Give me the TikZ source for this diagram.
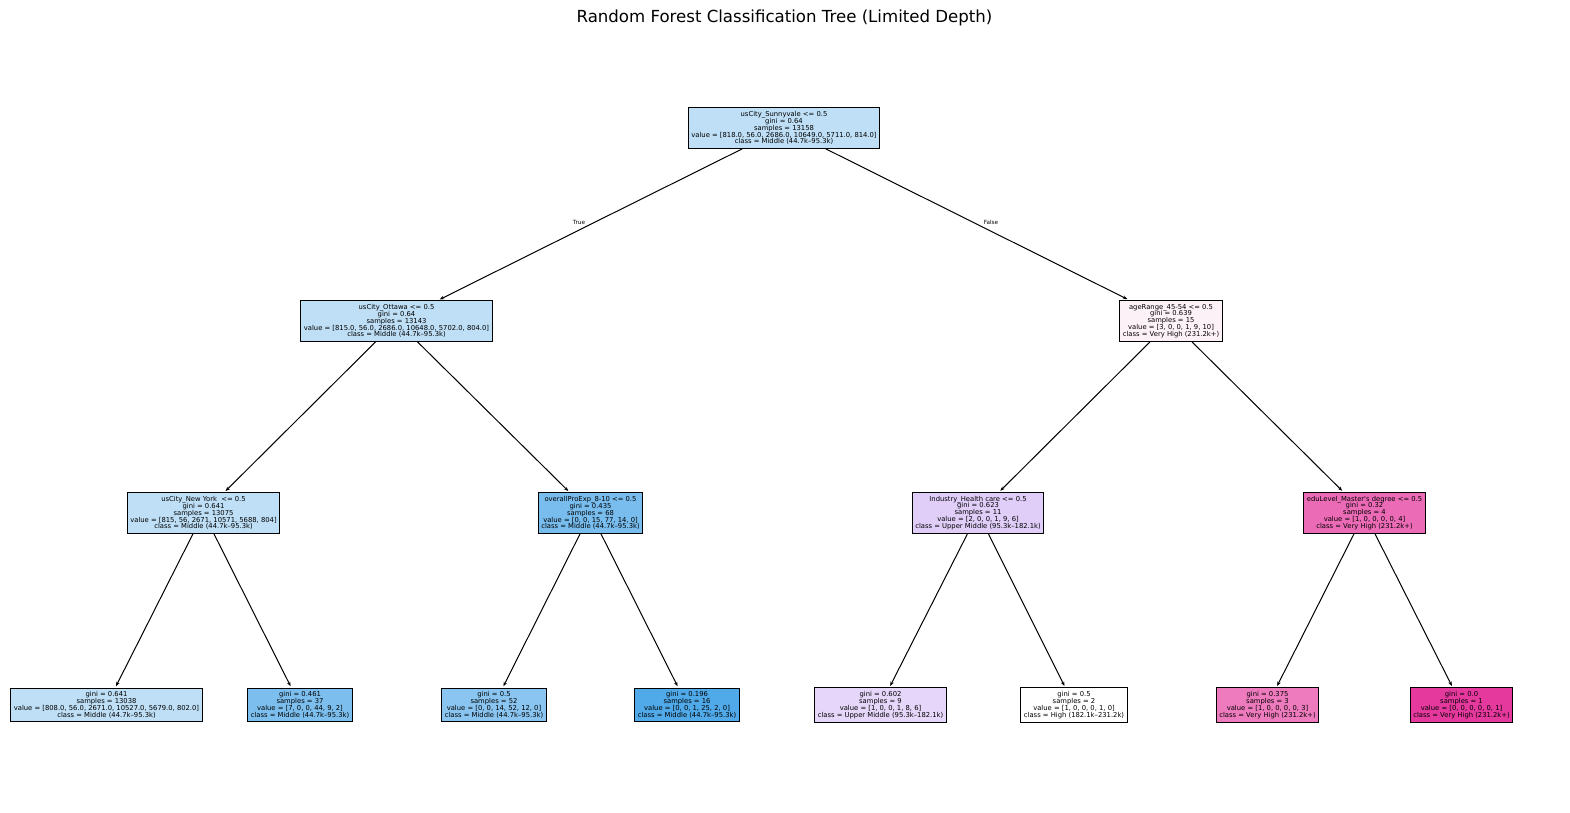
\documentclass[tikz,border=0pt]{standalone}
\usepackage{fontspec}
\setmainfont{DejaVu Sans}
\usetikzlibrary{arrows.meta}

% node fills (class colour mixed with white)
\definecolor{midA}{RGB}{190,223,246}
\definecolor{midB}{RGB}{120,189,237}
\definecolor{midC}{RGB}{124,191,238}
\definecolor{midD}{RGB}{137,197,240}
\definecolor{midE}{RGB}{80,169,232}
\definecolor{upA}{RGB}{224,206,249}
\definecolor{upB}{RGB}{230,215,250}
\definecolor{vhA}{RGB}{253,241,248}
\definecolor{vhB}{RGB}{236,107,182}
\definecolor{vhC}{RGB}{238,123,190}
\definecolor{vhD}{RGB}{229,57,158}

\begin{document}
\begin{tikzpicture}[x=1pt,y=-1pt,
    treenode/.style={draw=black, line width=1.1pt, inner xsep=3.2pt, inner ysep=3.5pt,
      align=center, font=\fontsize{6.8}{6.9}\selectfont},
    branch/.style={-{Stealth[length=4.5pt,width=3.5pt]}, line width=1pt, shorten >=1.5pt},
    edgelabel/.style={font=\fontsize{5.7}{6}\selectfont}]

    \useasboundingbox (0,0) rectangle (1570,812);

    % Title
    \node[font=\fontsize{16.6}{19}\selectfont] (title) at (784.5,18) {Random Forest Classification Tree (Limited Depth)};

    % Root
    \node[treenode, fill=midA] (root) at (784,128) {usCity\_Sunnyvale <= 0.5\\gini = 0.64\\samples = 13158\\value = [818.0, 56.0, 2686.0, 10649.0, 5711.0, 814.0]\\class = Middle (44.7k--95.3k)};

    % Depth 1
    \node[treenode, fill=midA] (ottawa) at (396.5,321) {usCity\_Ottawa <= 0.5\\gini = 0.64\\samples = 13143\\value = [815.0, 56.0, 2686.0, 10648.0, 5702.0, 804.0]\\class = Middle (44.7k--95.3k)};
    \node[treenode, fill=vhA] (age) at (1171,321) {ageRange\_45-54 <= 0.5\\gini = 0.639\\samples = 15\\value = [3, 0, 0, 1, 9, 10]\\class = Very High (231.2k+)};

    % Depth 2
    \node[treenode, fill=midA] (newyork) at (203.5,513) {usCity\_New York\ \ <= 0.5\\gini = 0.641\\samples = 13075\\value = [815, 56, 2671, 10571, 5688, 804]\\class = Middle (44.7k--95.3k)};
    \node[treenode, fill=midB] (proexp) at (590.5,513) {overallProExp\_8-10 <= 0.5\\gini = 0.435\\samples = 68\\value = [0, 0, 15, 77, 14, 0]\\class = Middle (44.7k--95.3k)};
    \node[treenode, fill=upA] (health) at (978,513) {Industry\_Health care <= 0.5\\gini = 0.623\\samples = 11\\value = [2, 0, 0, 1, 9, 6]\\class = Upper Middle (95.3k--182.1k)};
    \node[treenode, fill=vhB] (master) at (1364.5,513) {eduLevel\_Master\textquotesingle s degree <= 0.5\\gini = 0.32\\samples = 4\\value = [1, 0, 0, 0, 0, 4]\\class = Very High (231.2k+)};

    % Leaves
    \node[treenode, fill=midA] (leafA) at (106.5,705) {gini = 0.641\\samples = 13038\\value = [808.0, 56.0, 2671.0, 10527.0, 5679.0, 802.0]\\class = Middle (44.7k--95.3k)};
    \node[treenode, fill=midC] (leafB) at (300,705) {gini = 0.461\\samples = 37\\value = [7, 0, 0, 44, 9, 2]\\class = Middle (44.7k--95.3k)};
    \node[treenode, fill=midD] (leafC) at (494,705) {gini = 0.5\\samples = 52\\value = [0, 0, 14, 52, 12, 0]\\class = Middle (44.7k--95.3k)};
    \node[treenode, fill=midE] (leafD) at (687,705) {gini = 0.196\\samples = 16\\value = [0, 0, 1, 25, 2, 0]\\class = Middle (44.7k--95.3k)};
    \node[treenode, fill=upB] (leafE) at (880.5,705) {gini = 0.602\\samples = 9\\value = [1, 0, 0, 1, 8, 6]\\class = Upper Middle (95.3k--182.1k)};
    \node[treenode, fill=white] (leafF) at (1074,705) {gini = 0.5\\samples = 2\\value = [1, 0, 0, 0, 1, 0]\\class = High (182.1k--231.2k)};
    \node[treenode, fill=vhC] (leafG) at (1267.5,705) {gini = 0.375\\samples = 3\\value = [1, 0, 0, 0, 0, 3]\\class = Very High (231.2k+)};
    \node[treenode, fill=vhD] (leafH) at (1461.5,705) {gini = 0.0\\samples = 1\\value = [0, 0, 0, 0, 0, 1]\\class = Very High (231.2k+)};

    % Branches
    \draw[branch] (root) -- (ottawa);
    \draw[branch] (root) -- (age);
    \draw[branch] (ottawa) -- (newyork);
    \draw[branch] (ottawa) -- (proexp);
    \draw[branch] (age) -- (health);
    \draw[branch] (age) -- (master);
    \draw[branch] (newyork) -- (leafA);
    \draw[branch] (newyork) -- (leafB);
    \draw[branch] (proexp) -- (leafC);
    \draw[branch] (proexp) -- (leafD);
    \draw[branch] (health) -- (leafE);
    \draw[branch] (health) -- (leafF);
    \draw[branch] (master) -- (leafG);
    \draw[branch] (master) -- (leafH);

    % Split labels
    \node[edgelabel] (truelabel) at (579,222.5) {True};
    \node[edgelabel] (falselabel) at (991,222.5) {False};
\end{tikzpicture}
\end{document}
